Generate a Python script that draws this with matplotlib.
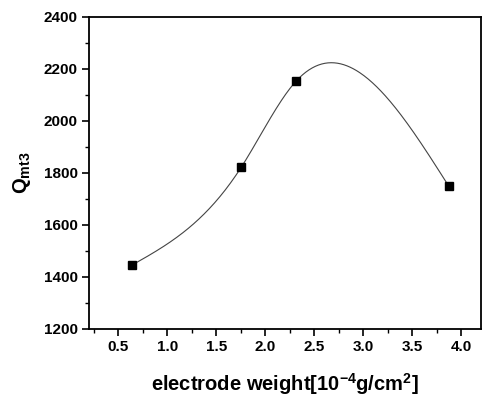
import numpy as np
import matplotlib
matplotlib.use("Agg")
import matplotlib.pyplot as plt
from matplotlib.ticker import MultipleLocator

plt.rcParams['font.family'] = ['Liberation Sans', 'DejaVu Sans']
plt.rcParams['font.weight'] = 'bold'
plt.rcParams['mathtext.fontset'] = 'custom'
plt.rcParams['mathtext.rm'] = 'Liberation Sans:bold'
plt.rcParams['mathtext.bf'] = 'Liberation Sans:bold'
plt.rcParams['mathtext.default'] = 'bf'

weight = [0.64, 1.755, 2.31, 3.87]
q_mt3 = [1446, 1823, 2152, 1750]


def natural_spline(x, y, xs):
    # natural cubic spline through the data points
    x = np.asarray(x, float)
    y = np.asarray(y, float)
    n = len(x)
    h = np.diff(x)
    A = np.zeros((n, n))
    b = np.zeros(n)
    A[0, 0] = A[-1, -1] = 1
    for i in range(1, n - 1):
        A[i, i - 1] = h[i - 1]
        A[i, i] = 2 * (h[i - 1] + h[i])
        A[i, i + 1] = h[i]
        b[i] = 6 * ((y[i + 1] - y[i]) / h[i] - (y[i] - y[i - 1]) / h[i - 1])
    m = np.linalg.solve(A, b)
    out = []
    for t in xs:
        i = min(max(np.searchsorted(x, t) - 1, 0), n - 2)
        a = x[i + 1] - t
        c = t - x[i]
        out.append(m[i] * a**3 / (6 * h[i]) + m[i + 1] * c**3 / (6 * h[i])
                   + (y[i] / h[i] - m[i] * h[i] / 6) * a
                   + (y[i + 1] / h[i] - m[i + 1] * h[i] / 6) * c)
    return np.array(out)


fig = plt.figure(figsize=(4.82, 3.97), dpi=100)
ax = fig.add_axes([89 / 482, 1 - 329 / 397, 392 / 482, 312 / 397])

xs = np.linspace(weight[0], weight[-1], 300)
ax.plot(xs, natural_spline(weight, q_mt3, xs), color='#444444', lw=0.8)
ax.plot(weight, q_mt3, 's', color='black', ms=6)

ax.set_xlim(0.2, 4.2)
ax.set_ylim(1200, 2400)
ax.xaxis.set_major_locator(MultipleLocator(0.5))
ax.xaxis.set_minor_locator(MultipleLocator(0.25))
ax.yaxis.set_major_locator(MultipleLocator(200))
ax.yaxis.set_minor_locator(MultipleLocator(100))
ax.tick_params(which='major', direction='out', length=5, width=1.2, labelsize=11, pad=3)
ax.tick_params(which='minor', direction='out', length=3, width=1)
for lab in ax.get_xticklabels() + ax.get_yticklabels():
    lab.set_fontweight('bold')
for s in ax.spines.values():
    s.set_linewidth(1.3)

ax.set_xlabel(r'electrode weight[10$^{-4}$g/cm$^{2}$]', fontsize=14.5, fontweight='bold', labelpad=12)
ax.set_ylabel(r'Q$_{mt3}$', fontsize=14.5, fontweight='bold', labelpad=8)

fig.savefig('out.png', dpi=100)
